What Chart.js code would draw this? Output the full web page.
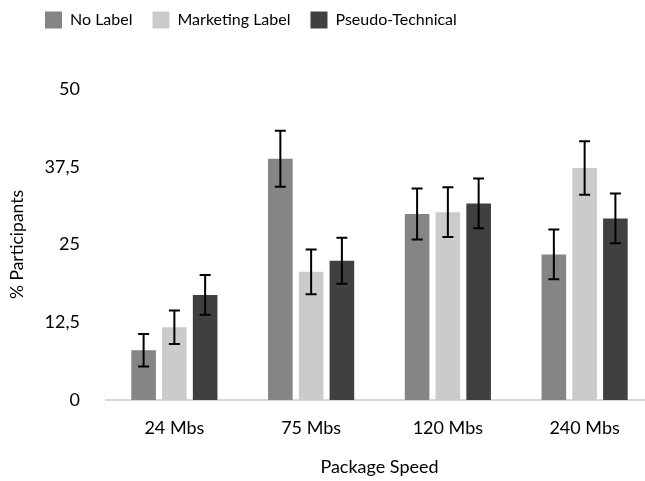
<!DOCTYPE html>
<html>
<head>
<meta charset="utf-8">
<script src="https://cdn.jsdelivr.net/npm/chart.js@4"></script>
<style>
  html, body { margin: 0; padding: 0; background: #fff; overflow: hidden; }
  #wrap { width: 653px; height: 481px; }
</style>
</head>
<body>
<div id="wrap"><canvas id="speedChart" width="653" height="481"></canvas></div>
<script>
const speedLabels = ['24 Mbs', '75 Mbs', '120 Mbs', '240 Mbs']; // x-axis categories

// bar heights (% participants) and error bar half-lengths
const noLabel = [8.0, 38.8, 29.9, 23.4];
const noLabelErr = [2.6, 4.5, 4.1, 4.0];
const marketingLabel = [11.7, 20.6, 30.2, 37.3];
const marketingLabelErr = [2.7, 3.6, 4.0, 4.3];
const pseudoTechnical = [16.9, 22.4, 31.6, 29.2];
const pseudoTechnicalErr = [3.2, 3.7, 4.0, 4.0];

const yTicks = [0, 12.5, 25, 37.5, 50];

const font = 'Lato';
const textColor = '#000';

// draws the error bars on top of each bar
const errorBars = {
    id: 'errorBars',
    afterDatasetsDraw(chart) {
        const ctx = chart.ctx;
        const y = chart.scales.y;
        ctx.save();
        ctx.strokeStyle = '#000';
        ctx.lineWidth = 2;
        chart.data.datasets.forEach((ds, i) => {
            const meta = chart.getDatasetMeta(i);
            meta.data.forEach((bar, j) => {
                const v = ds.data[j];
                const e = ds.errors[j];
                const top = y.getPixelForValue(v + e);
                const bottom = y.getPixelForValue(v - e);
                ctx.beginPath();
                ctx.moveTo(bar.x, top);
                ctx.lineTo(bar.x, bottom);
                ctx.moveTo(bar.x - 5.5, top);
                ctx.lineTo(bar.x + 5.5, top);
                ctx.moveTo(bar.x - 5.5, bottom);
                ctx.lineTo(bar.x + 5.5, bottom);
                ctx.stroke();
            });
        });
        ctx.restore();
    }
};

// legend takes the space above the plot, then is moved to where the picture has it
const legendPlace = {
    id: 'legendPlace',
    beforeInit(chart) {
        const fit = chart.legend.fit;
        chart.legend.fit = function () {
            fit.bind(chart.legend)();
            this.height = 89;
        };
    },
    afterLayout(chart) {
        const l = chart.legend;
        const w = l.right - l.left;
        l.left = 25;
        l.right = 25 + w;
        l.top = -8.5;
    }
};

const canvas = document.getElementById('speedChart');
const ctx = canvas.getContext('2d');

const speedChart = new Chart(ctx, {
    type: 'bar',
    data: {
        labels: speedLabels,
        datasets: [
            { label: 'No Label', data: noLabel, errors: noLabelErr, backgroundColor: '#858585' },
            { label: 'Marketing Label', data: marketingLabel, errors: marketingLabelErr, backgroundColor: '#cbcbcb' },
            { label: 'Pseudo-Technical', data: pseudoTechnical, errors: pseudoTechnicalErr, backgroundColor: '#404040' }
        ]
    },
    options: {
        responsive: false,
        animation: false,
        categoryPercentage: 0.675,
        barPercentage: 0.8,
        layout: { padding: 0 },
        plugins: {
            tooltip: { enabled: false },
            legend: {
                position: 'top',
                align: 'start',
                labels: {
                    boxWidth: 17,
                    boxHeight: 17,
                    padding: 20,
                    color: textColor,
                    font: { family: font, size: 16 }
                }
            }
        },
        scales: {
            x: {
                grid: { display: false, drawTicks: false },
                border: { display: true, color: '#d9d9d9', width: 2 },
                ticks: { color: textColor, padding: 17, font: { family: font, size: 18 } },
                title: {
                    display: true,
                    text: 'Package Speed',
                    color: textColor,
                    padding: { top: 0, bottom: 3 },
                    font: { family: font, size: 18 }
                },
                afterFit(scale) { scale.width; scale.height = 81; }
            },
            y: {
                min: 0,
                max: 50,
                grid: { display: false, drawTicks: false },
                border: { display: false },
                afterBuildTicks(scale) {
                    scale.ticks = yTicks.map(v => ({ value: v }));
                },
                ticks: {
                    color: textColor,
                    padding: 26,
                    font: { family: font, size: 18 },
                    callback: v => String(v).replace('.', ',')
                },
                title: {
                    display: true,
                    text: '% Participants',
                    color: textColor,
                    padding: { top: 7, bottom: 0 },
                    font: { family: font, size: 17.5 }
                },
                afterFit(scale) { scale.width = 106; }
            }
        }
    },
    plugins: [errorBars, legendPlace]
});
</script>
</body>
</html>
